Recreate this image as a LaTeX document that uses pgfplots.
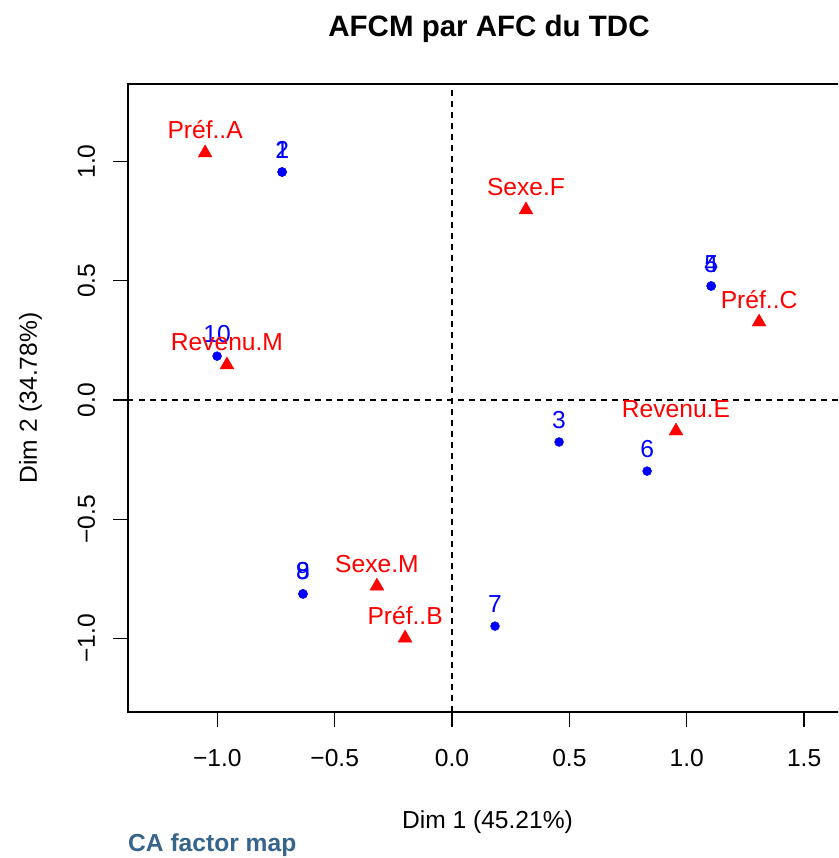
\documentclass[border=0pt]{standalone}
\usepackage{pgfplots}
\pgfplotsset{compat=1.18}
\usepackage{pgfplotstable}
\usepackage{fontspec}
\setmainfont{Liberation Sans}
\definecolor{rblue}{RGB}{0,0,255}
\definecolor{rred}{RGB}{255,0,0}
\definecolor{capcol}{RGB}{54,100,139}
\newcommand\fs{\fontsize{24.6}{29.5}\selectfont}
\pgfplotstableread{
x y lab
-0.724 0.956 1
-0.724 0.956 2
0.456 -0.176 3
1.104 0.478 4
1.104 0.478 5
0.831 -0.298 6
0.183 -0.948 7
-0.635 -0.813 8
-0.635 -0.813 9
-1.001 0.184 10
}\rows
\pgfplotstableread{
x y lab
-1.052 1.036 Préf..A
-0.200 -0.998 Préf..B
1.308 0.327 Préf..C
-0.959 0.147 Revenu.M
0.954 -0.130 Revenu.E
0.315 0.797 Sexe.F
-0.320 -0.780 Sexe.M
}\cols
\begin{document}
\begin{tikzpicture}
\begin{scope}
\clip (-128pt,-146pt) rectangle (710pt,712pt);
\begin{axis}[
 at={(0pt,0pt)}, anchor=south west,
 scale only axis, width=720.5pt, height=628pt,
 xmin=-1.3805, xmax=1.689, ymin=-1.308, ymax=1.325,
 axis line style={line width=1.3pt},
 tick align=outside, major tick length=15pt,
 tick style={line width=1.3pt, black},
 xtick pos=left, ytick pos=left,
 xtick={-1,-0.5,0,0.5,1,1.5},
 xticklabels={−1.0,−0.5,0.0,0.5,1.0,1.5},
 ytick={-1,-0.5,0,0.5,1},
 yticklabels={−1.0,−0.5,0.0,0.5,1.0},
 xticklabel style={font=\fs, anchor=base, inner sep=0pt},
 yticklabel style={font=\fs, rotate=90, anchor=base, inner sep=0pt},
 xticklabel shift=39pt, yticklabel shift=18pt,
]
\draw[black, line width=1.3pt, dash pattern=on 5.5pt off 5.5pt] (axis cs:0,-1.308) -- (axis cs:0,1.325);
\draw[black, line width=1.3pt, dash pattern=on 5.5pt off 5.5pt] (axis cs:-1.3805,0) -- (axis cs:1.689,0);
\addplot[only marks, mark=*, mark size=4.5pt, color=rblue,
  nodes near coords, point meta=explicit symbolic,
  every node near coord/.append style={font=\fs, text=rblue, anchor=base, yshift=14pt, inner sep=0pt}]
  table[meta=lab] {\rows};
\addplot[only marks, mark=triangle*, mark size=8pt, color=rred,
  nodes near coords, point meta=explicit symbolic,
  every node near coord/.append style={font=\fs, text=rred, anchor=base, yshift=14pt, inner sep=0pt}]
  table[meta=lab] {\cols};
\end{axis}
\end{scope}
\node[anchor=base, inner sep=0pt, font=\fontsize{29.5}{35}\selectfont\bfseries] at (361pt,675pt) {AFCM par AFC du TDC};
\node[anchor=base, inner sep=0pt, font=\fs] at (359.5pt,-116pt) {Dim 1 (45.21\%)};
\node[anchor=base, inner sep=0pt, rotate=90, font=\fs] at (-91pt,314pt) {Dim 2 (34.78\%)};
\node[anchor=base west, inner sep=0pt, font=\fs\bfseries, text=capcol] at (0pt,-139pt) {CA factor map};
\pgfresetboundingbox
\path[use as bounding box] (-128pt,-146pt) rectangle (710pt,712pt);
\end{tikzpicture}
\end{document}
